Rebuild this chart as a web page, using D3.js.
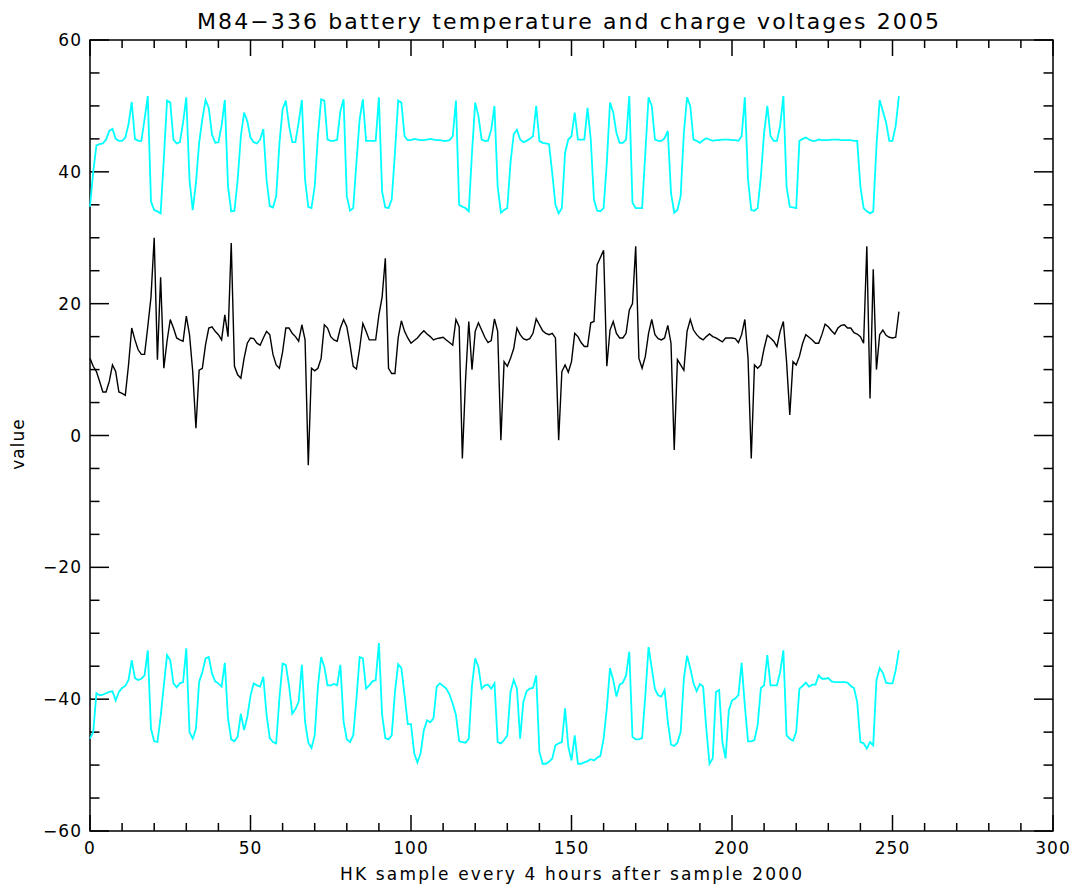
<!DOCTYPE html>
<html>
<head>
<meta charset="utf-8">
<script src="https://cdn.jsdelivr.net/npm/d3@7/dist/d3.min.js"></script>
<style>
  body { margin: 0; background: #fff; }
  svg text { font-family: "DejaVu Sans", sans-serif; fill: #000; }
</style>
</head>
<body>
<svg id="chart" width="1078" height="889"></svg>
<script>
// Battery charge voltage (upper, cyan)
const topV = [
  34.7, 40, 44, 44.2, 44.3, 44.9, 46.2, 46.5, 45, 44.7,
  44.7, 45.2, 47.2, 50.6, 45, 44.7, 44.7, 48, 51.5, 35.5,
  34.2, 34, 33.7, 42, 50.8, 50.5, 44.9, 44.3, 44.5, 47.5,
  51.3, 38.8, 34.2, 38.3, 44.4, 48, 50.9, 49.7, 45.7, 44.4,
  44.5, 47, 50.9, 37.8, 34, 34.1, 38.8, 45.4, 49, 47.7,
  45.2, 44.5, 44.3, 44.9, 46.5, 38.8, 34.8, 34.6, 36.3, 44.2,
  49.5, 50.8, 47, 44.5, 44.5, 47.5, 50.9, 38.8, 34.7, 34.5,
  37.8, 45.4, 51, 50.8, 44.9, 44.7, 44.7, 44.9, 49.2, 51,
  36.3, 34.1, 34.5, 41.4, 48, 51, 44.7, 44.7, 44.7, 44.7,
  51.3, 37, 34.6, 34.5, 35.8, 42.9, 50.8, 50.5, 45.4, 44.8,
  44.8, 45, 44.9, 44.8, 44.8, 44.9, 45, 44.9, 44.8, 44.8,
  44.7, 44.7, 44.8, 45.4, 50.8, 35, 34.7, 34.5, 34, 42.9,
  50.5, 48.5, 44.9, 44.7, 44.7, 46.4, 50, 37.8, 33.8, 34.2,
  34.5, 41.4, 45.7, 46.4, 44.9, 44.5, 44.7, 45, 45.4, 50,
  44.7, 44.4, 44.3, 44.2, 39.8, 35, 33.7, 34.5, 42.9, 44.9,
  45.4, 49, 44.9, 44.9, 44.9, 49.7, 44.9, 35.8, 34.1, 34,
  34.5, 41.4, 50.5, 49, 45.9, 44.4, 44.4, 44.9, 51.5, 35.3,
  34.5, 34.5, 34.5, 42.9, 51.3, 50, 44.9, 44.7, 44.7, 45.1,
  46.2, 36.8, 33.8, 34.2, 36.3, 45.9, 51.3, 50, 44.9, 44.7,
  44.4, 44.8, 45.1, 44.9, 44.7, 44.8, 44.8, 44.9, 44.9, 44.9,
  44.8, 44.8, 44.7, 45.4, 51.3, 38.8, 34.2, 34.1, 34.5, 39.3,
  45.9, 50, 45.4, 44.7, 44.7, 47, 51.5, 37.8, 34.7, 34.6,
  34.5, 44.7, 45, 45.2, 44.9, 44.7, 44.7, 44.9, 44.8, 44.8,
  44.8, 44.9, 44.9, 44.9, 44.8, 44.8, 44.8, 44.8, 44.7, 44.7,
  37.8, 34.5, 34, 33.7, 34, 43.9, 50.9, 49.2, 47.5, 44.7,
  44.7, 47, 51.5
];

// Battery temperature (middle, black)
const midV = [
  11.7, 10.5, 9.7, 8.2, 6.6, 6.6, 8.2, 10.7, 9.7, 6.6,
  6.4, 6.1, 10.7, 16.3, 14.5, 13, 12.3, 12.3, 16.5, 21,
  30, 11.5, 24, 10.2, 14.3, 17.6, 16.3, 14.8, 14.5, 14.3,
  18.1, 15.3, 9.7, 1.1, 9.9, 10.2, 13.8, 16.3, 16.5, 15.8,
  15.3, 14.5, 18.3, 15, 29.2, 10.5, 9.2, 8.7, 11.7, 14,
  14.8, 14.7, 14, 13.7, 14.8, 15.8, 15.3, 12.3, 10.7, 10.2,
  12.7, 16.3, 16.3, 15.5, 15, 14.3, 16.8, 14.5, -4.5, 10.2,
  9.8, 10.2, 11.7, 16.8, 16.3, 15, 14.5, 14.3, 16.3, 17.6,
  16.5, 13.8, 10.5, 10.1, 13.2, 17, 15.8, 14.5, 14.5, 14.5,
  18.3, 21, 26.9, 10.2, 9.4, 9.4, 14.8, 17.4, 15.8, 14.8,
  14, 14.4, 14.8, 15.4, 15.9, 15.4, 15, 14.5, 14.7, 14.8,
  14.9, 14.5, 14.1, 13.7, 17.6, 16.5, -3.5, 8.5, 17.3, 10,
  15.8, 17.1, 16, 14.9, 14.1, 14.4, 17.7, 15.8, -0.7, 11.2,
  10.5, 11.7, 13.2, 16.3, 15.3, 14.7, 14.5, 14.7, 15.5, 17.7,
  16.8, 15.9, 15.5, 15.3, 15.5, 14.8, -0.7, 9.7, 10.7, 9.6,
  11.2, 15.5, 15, 14.1, 13.5, 13.5, 17.1, 17.3, 25.9, 27,
  28.1, 10.5, 16, 17.3, 15.5, 14.8, 14.8, 15.5, 19, 20,
  28.7, 11.7, 10.2, 12, 15.5, 17.6, 15.3, 14.7, 14.5, 14.8,
  16.7, 14, -2.2, 11.5, 10.7, 9.9, 15.8, 17.6, 16, 15.3,
  14.8, 14.5, 15, 15.4, 15, 14.8, 14.5, 14.2, 14.8, 14.8,
  14.8, 14.7, 14.1, 15.3, 17.6, 11.7, -3.5, 10.7, 10.2, 10.7,
  13.2, 15.2, 14.8, 14.3, 13.5, 15.8, 17.3, 11.2, 3.1, 11.2,
  10.7, 12, 14, 15.3, 14.9, 14.5, 14, 14, 15.3, 16.9,
  16.5, 15.9, 15.4, 16.3, 16.7, 16.8, 16.3, 16.3, 15.6, 15.4,
  15, 14, 28.7, 5.6, 25.2, 10, 15.3, 16, 15.2, 14.9,
  14.8, 14.9, 18.8
];

// Battery charge voltage (lower, cyan)
const botV = [
  -46, -45, -39.1, -39.4, -39.3, -39.1, -38.9, -38.8, -40.2, -38.9,
  -38.3, -38, -37.1, -34.1, -36.8, -37.1, -36.9, -36.4, -32.6, -44.5,
  -46.4, -46.5, -42.7, -37.9, -33.3, -34.1, -37.6, -38.2, -37.6, -37.4,
  -32.3, -45, -46, -44.5, -37.4, -35.9, -33.8, -33.6, -36.1, -37.3,
  -37.6, -38.1, -34.5, -42.9, -46.1, -46.4, -45.7, -42.2, -44.7, -42.7,
  -39.5, -37.6, -37.9, -38.1, -36.6, -42.4, -45.9, -46.5, -46.7, -39.9,
  -34.6, -34.8, -37.9, -42.2, -41.5, -40.4, -34.8, -43.4, -46.6, -47.4,
  -45.5, -38.1, -33.6, -35.1, -37.9, -37.9, -37.7, -37.9, -34.8, -43.4,
  -46.1, -46.5, -45.5, -40, -33.6, -33.8, -38.4, -37.9, -37.3, -37.1,
  -31.5, -42.4, -45.9, -46.1, -45.5, -38.9, -34.7, -35.3, -39.4, -43.8,
  -43.8, -48.2, -49.6, -48.2, -44.7, -43.2, -43.5, -42.9, -38.1, -37.6,
  -38, -38.4, -39.3, -40.7, -42.4, -46.4, -46.5, -46.6, -46, -37.9,
  -33.8, -35.1, -38.4, -37.9, -37.8, -38.4, -37.6, -46.5, -46.7, -46.2,
  -45.5, -38.9, -37.1, -38.4, -46, -40.4, -38.8, -38.4, -38.3, -36.4,
  -48, -49.8, -49.8, -49.5, -49, -47, -46.7, -46.5, -41.4, -47.2,
  -49.3, -45.5, -49.8, -49.8, -49.6, -49.4, -49.1, -49.3, -48.9, -48.6,
  -46, -41.4, -35.3, -37.1, -39.6, -37.8, -37.5, -36.4, -32.8, -45.7,
  -46.1, -46.1, -45.9, -39.4, -32.1, -35.3, -38.5, -39.4, -39.6, -38.6,
  -43.4, -46.9, -47.1, -46.6, -45, -36.9, -33.4, -35.3, -37.6, -38.8,
  -37.7, -38.1, -44.5, -49.8, -49, -38.9, -38.6, -46.5, -49, -41.7,
  -40.2, -39.9, -39.4, -34.5, -41, -46.4, -46.4, -46.2, -43.9, -38.3,
  -37.9, -33.3, -37.9, -37.9, -37.9, -35.9, -32.6, -45.5, -46, -46.3,
  -45, -38.4, -38, -37.5, -38.1, -37.8, -37.8, -36.4, -36.9, -36.9,
  -36.8, -37.3, -37.4, -37.4, -37.4, -37.4, -37.5, -38, -38.3, -40.4,
  -46.5, -46.7, -47.5, -46.5, -47, -37.1, -35.3, -36, -37.5, -37.6,
  -37.6, -35.6, -32.6
];

const xMajor = [0, 50, 100, 150, 200, 250, 300];
const yMajor = [-60, -40, -20, 0, 20, 40, 60];

const titleText = 'M84\u2212336 battery temperature and charge voltages 2005';
const xTitle = 'HK sample every 4 hours after sample 2000';
const yTitle = 'value';

const svg = d3.select('#chart');
const L = 90, R = 1053, T = 40, B = 831;

const x = d3.scaleLinear().domain([0, 300]).range([L, R]);
const y = d3.scaleLinear().domain([-60, 60]).range([B, T]);

// frame
svg.append('rect')
  .attr('x', L).attr('y', T).attr('width', R - L).attr('height', B - T)
  .attr('fill', 'none').attr('stroke', '#000').attr('stroke-width', 1.5);

// ticks on all four sides, pointing inward
const xMinor = d3.range(0, 301, 10).filter(v => v % 50 !== 0);
const yMinor = d3.range(-60, 61, 5).filter(v => v % 20 !== 0);
const tickG = svg.append('g').attr('stroke', '#000').attr('stroke-width', 1.5);

function xTicks(vals, len) {
  vals.forEach(v => {
    tickG.append('line').attr('x1', x(v)).attr('x2', x(v)).attr('y1', B).attr('y2', B - len);
    tickG.append('line').attr('x1', x(v)).attr('x2', x(v)).attr('y1', T).attr('y2', T + len);
  });
}
function yTicks(vals, len) {
  vals.forEach(v => {
    tickG.append('line').attr('x1', L).attr('x2', L + len).attr('y1', y(v)).attr('y2', y(v));
    tickG.append('line').attr('x1', R).attr('x2', R - len).attr('y1', y(v)).attr('y2', y(v));
  });
}
xTicks(xMajor, 16);
xTicks(xMinor, 8);
yTicks(yMajor, 19);
yTicks(yMinor, 9.5);

// tick labels
const fmt = d3.format('d');
svg.append('g').selectAll('text').data(xMajor).join('text')
  .attr('x', d => x(d)).attr('y', B + 23)
  .attr('text-anchor', 'middle').attr('font-size', 17)
  .attr('letter-spacing', 1)
  .text(d => fmt(d));

svg.append('g').selectAll('text').data(yMajor).join('text')
  .attr('x', L - 8).attr('y', d => y(d) + 6)
  .attr('text-anchor', 'end').attr('font-size', 17)
  .attr('letter-spacing', 1)
  .text(d => fmt(d));

// titles
svg.append('text')
  .attr('x', 197).attr('y', 29)
  .attr('font-size', 22)
  .attr('textLength', 742).attr('lengthAdjust', 'spacing')
  .text(titleText);

svg.append('text')
  .attr('x', 340).attr('y', 880)
  .attr('font-size', 17)
  .attr('textLength', 462).attr('lengthAdjust', 'spacing')
  .text(xTitle);

svg.append('text')
  .attr('transform', 'translate(24,444) rotate(-90)')
  .attr('text-anchor', 'middle').attr('font-size', 17)
  .attr('letter-spacing', 1)
  .text(yTitle);

// series
const line = d3.line().x((d, i) => x(i)).y(d => y(d));
const plot = svg.append('g');
plot.append('path').datum(topV).attr('d', line)
  .attr('fill', 'none').attr('stroke', '#00ffff').attr('stroke-width', 1.8);
plot.append('path').datum(botV).attr('d', line)
  .attr('fill', 'none').attr('stroke', '#00ffff').attr('stroke-width', 1.8);
plot.append('path').datum(midV).attr('d', line)
  .attr('fill', 'none').attr('stroke', '#000').attr('stroke-width', 1.4);
</script>
</body>
</html>
